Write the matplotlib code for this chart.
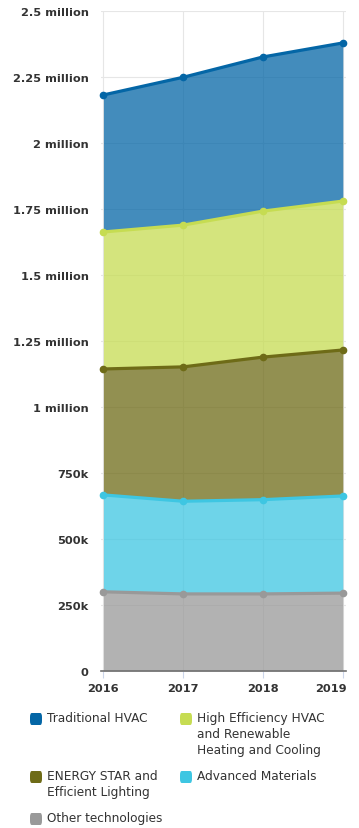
import numpy as np
import matplotlib
matplotlib.use("Agg")
import matplotlib.pyplot as plt
from matplotlib.patches import FancyBboxPatch
from matplotlib.ticker import FixedLocator
from matplotlib.transforms import ScaledTranslation

years = [2016, 2017, 2018, 2019]

# stacked from the bottom up, values in jobs
other = [300000, 292000, 292000, 295000]
advanced = [367000, 351000, 357000, 368000]
energy_star = [477000, 509000, 540000, 553000]
high_eff = [519000, 537000, 553000, 564000]
traditional = [519000, 560000, 584000, 599000]

series = [other, advanced, energy_star, high_eff, traditional]
names = ["Other technologies", "Advanced Materials",
         "ENERGY STAR and\nEfficient Lighting",
         "High Efficiency HVAC\nand Renewable\nHeating and Cooling",
         "Traditional HVAC"]
colors = ["#999999", "#3ec6e2", "#6e6b17", "#c6dc52", "#0466a6"]

yticks = [0, 250000, 500000, 750000, 1000000, 1250000, 1500000,
          1750000, 2000000, 2250000, 2500000]
ylabels = ["0", "250k", "500k", "750k", "1 million", "1.25 million",
           "1.5 million", "1.75 million", "2 million", "2.25 million",
           "2.5 million"]

W, H = 359, 829
fig = plt.figure(figsize=(W / 100, H / 100), dpi=100)
ax = fig.add_axes([101 / W, 1 - 672 / H, (346 - 101) / W, (672 - 12) / H])

bottom = np.zeros(len(years))
for vals, c in zip(series, colors):
    top = bottom + np.array(vals)
    ax.fill_between(years, bottom, top, color=c, alpha=0.75, lw=0, zorder=2)
    ax.plot(years, top, color=c, lw=2.3, marker="o", ms=4.5, zorder=3,
            solid_capstyle="round", clip_on=False)
    bottom = top

ax.set_xlim(2015.97, 2019.04)
ax.set_ylim(0, 2500000)
ax.yaxis.set_major_locator(FixedLocator(yticks))
ax.set_yticklabels(ylabels)
ax.set_xticks(years)
ax.set_xticklabels([str(y) for y in years])

ax.grid(True, color="#e6e6e6", lw=0.8, zorder=0)
ax.set_axisbelow(True)
for s in ["top", "right", "left"]:
    ax.spines[s].set_visible(False)
ax.spines["bottom"].set_color("#707070")
ax.spines["bottom"].set_linewidth(1.2)

ax.tick_params(axis="y", length=0, pad=9, labelsize=8.2, labelcolor="#333333")
ax.tick_params(axis="x", length=5, color="#ccd6eb", pad=4, labelsize=8.2,
               labelcolor="#333333")
for lab in ax.get_xticklabels() + ax.get_yticklabels():
    lab.set_fontweight("bold")
# last year label is pulled inside the figure
last = ax.get_xticklabels()[-1]
last.set_horizontalalignment("right")
last.set_transform(last.get_transform() +
                   ScaledTranslation(4 / 100, 0, fig.dpi_scale_trans))

# legend drawn by hand in two columns
legend_order = [4, 3, 2, 1, 0]
slots = [(30, 720), (180, 720), (30, 778), (180, 778), (30, 820)]
for idx, (px, py) in zip(legend_order, slots):
    fig.patches.append(FancyBboxPatch(
        (px / W, 1 - (py + 6) / H), 12 / W, 12 / H,
        boxstyle="round,pad=0,rounding_size=0.005",
        transform=fig.transFigure, color=colors[idx], lw=0))
    fig.text((px + 17) / W, 1 - (py - 8) / H, names[idx], fontsize=8.7,
             color="#333333", va="top", ha="left", linespacing=1.3)

fig.savefig("out.png", dpi=100)
